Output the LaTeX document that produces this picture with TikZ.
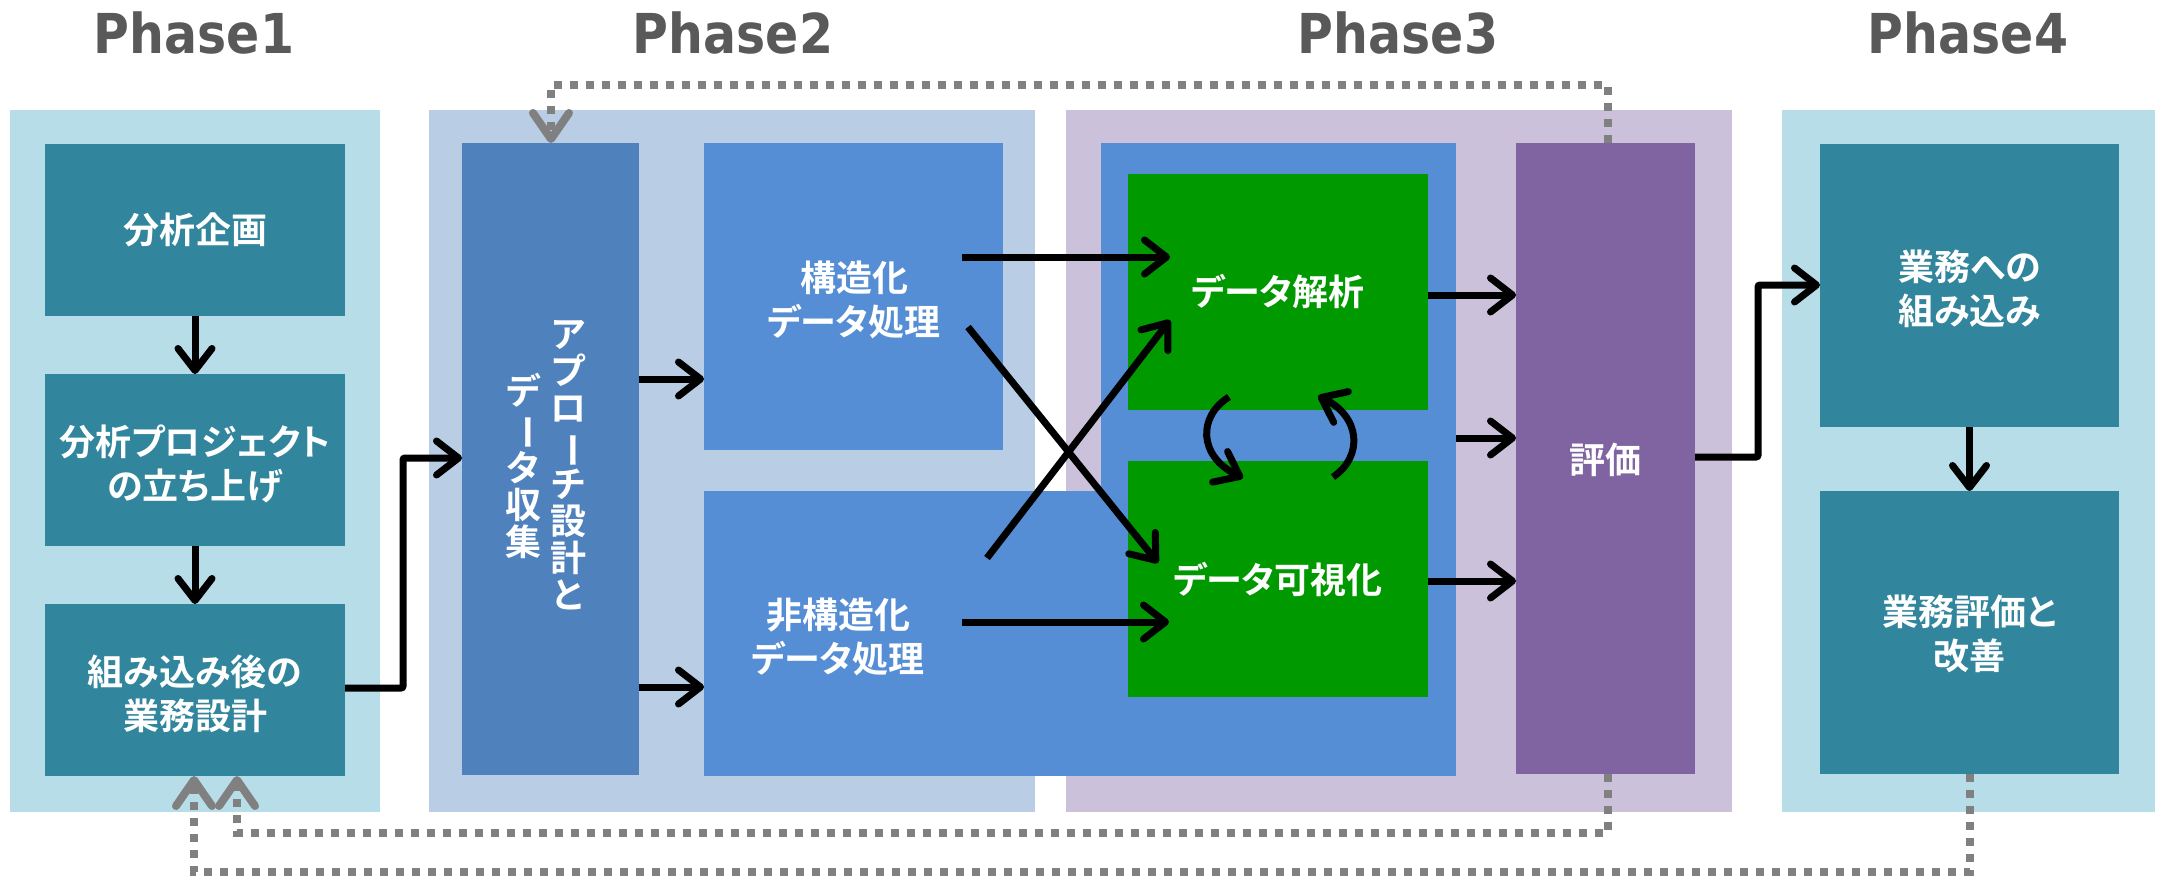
\documentclass[tikz,border=0pt]{standalone}
\usepackage{fontspec}
\usepackage{graphicx}
\usetikzlibrary{arrows.meta}
\newfontfamily\jpb{Noto Sans CJK JP}[UprightFont=* Bold, RawFeature=+palt]
\newfontfamily\jpv{Noto Sans CJK JP}[UprightFont=* Bold]
\newfontfamily\ttl{DejaVu Sans}[UprightFont=* Bold, FakeStretch=0.89]
\newcommand\vbar{\rotatebox[origin=c]{-90}{ー}}
\definecolor{bgA}{HTML}{B7DDE8}
\definecolor{bxA}{HTML}{31859C}
\definecolor{bgB}{HTML}{B9CDE5}
\definecolor{bxApp}{HTML}{4F81BD}
\definecolor{bxB}{HTML}{558ED5}
\definecolor{bgC}{HTML}{CCC1DA}
\definecolor{grn}{HTML}{009900}
\definecolor{evl}{HTML}{8064A2}
\definecolor{tgray}{HTML}{595959}
\definecolor{dgray}{HTML}{808080}
\begin{document}
\begin{tikzpicture}[x=1pt,y=-1pt,
  box/.style={inner sep=0pt, outer sep=0pt},
  txt/.style={text=white, font=\jpb\fontsize{36}{44}\selectfont, align=center, inner sep=0pt},
  vtxt/.style={text=white, font=\jpv\fontsize{36}{37}\selectfont, align=center, inner sep=0pt},
  ttlst/.style={anchor=base, text=tgray, font=\ttl\fontsize{55}{60}\selectfont, inner sep=0pt},
  arr/.style={line width=7pt, -{Straight Barb[round, length=22pt, width=34pt]}},
  dotln/.style={draw=dgray, line width=8pt, dash pattern=on 8pt off 8pt, -{Straight Barb[round, length=26pt, width=36pt]}}
]
\fill[white] (0,0) rectangle (2162,876);
\useasboundingbox (0,0) rectangle (2162,876);

% titles
\node[ttlst] (t1) at (194,53) {Phase1};
\node[ttlst] (t2) at (733,53) {Phase2};
\node[ttlst] (t3) at (1398,53) {Phase3};
\node[ttlst] (t4) at (1968,53) {Phase4};

% phase backgrounds
\node[box, fill=bgA, minimum width=370, minimum height=702] (p1) at (195,461) {};
\node[box, fill=bgB, minimum width=606, minimum height=702] (p2) at (732,461) {};
\node[box, fill=bgC, minimum width=666, minimum height=702] (p3) at (1399,461) {};
\node[box, fill=bgA, minimum width=373, minimum height=702] (p4) at (1968.5,461) {};

% phase 1 boxes
\node[box, fill=bxA, minimum width=300, minimum height=172, txt] (a1) at (195,230) {分析企画};
\node[box, fill=bxA, minimum width=300, minimum height=172, txt] (a2) at (195,460) {};
\node[txt] at (195,464) {分析プロジェクト\\の立ち上げ};
\node[box, fill=bxA, minimum width=300, minimum height=172] (a3) at (195,690) {};
\node[txt] at (195,694) {組み込み後の\\業務設計};

% phase 2
\node[box, fill=bxApp, minimum width=177, minimum height=632] (app) at (550.5,459) {};
\node[vtxt] at (568,465.5) {ア\\プ\\ロ\\\vbar\\チ\\設\\計\\と};
\node[vtxt] at (523,466) {デ\\\vbar\\タ\\収\\集};
\node[box, fill=bxB, minimum width=299, minimum height=307] (str) at (853.5,296.5) {};
\node[txt] at (854,300) {構造化\\データ処理};
\node[box, fill=bxB, minimum width=397, minimum height=285] (uns) at (902.5,633.5) {};
\node[txt] at (838,637) {非構造化\\データ処理};

% phase 3
\node[box, fill=bxB, minimum width=355, minimum height=633] (p3in) at (1278.5,459.5) {};
\node[box, fill=grn, minimum width=300, minimum height=236, txt] (g1) at (1278,292) {データ解析};
\node[box, fill=grn, minimum width=300, minimum height=236, txt] (g2) at (1278,579) {データ可視化};
\node[box, fill=evl, minimum width=179, minimum height=631] (ev) at (1605.5,458.5) {};
\node[txt] at (1605.5,460) {評価};

% phase 4
\node[box, fill=bxA, minimum width=299, minimum height=283] (b1) at (1969.5,285.5) {};
\node[txt] at (1969.5,289) {業務への\\組み込み};
\node[box, fill=bxA, minimum width=299, minimum height=283] (b2) at (1969.5,632.5) {};
\node[txt] at (1969.5,634) {業務評価と\\改善};

% black arrows
\draw[arr] (a1.south) -- (a2.north);
\draw[arr] (a2.south) -- (a3.north);
\draw[arr, rounded corners=2pt] (a3.east |- 0,688) -- (403,688) |- (app.west |- 0,458);
\draw[arr] (app.east |- 0,379) -- (str.west |- 0,379);
\draw[arr] (app.east |- 0,687) -- (uns.west |- 0,687);

\coordinate (s1) at (962,257);
\coordinate (s2) at (968,327);
\coordinate (u1) at (987,558);
\coordinate (u2) at (962,622);
\coordinate (g1in) at (1170,257);
\coordinate (g1d) at (1170,320);
\coordinate (g2d) at (1158,563);
\coordinate (g2in) at (1169,622);
\draw[arr] (s1) -- (g1in);
\draw[arr] (s2) -- (g2d);
\draw[arr] (u1) -- (g1d);
\draw[arr] (u2) -- (g2in);

\draw[arr] (g1.east |- 0,295) -- (ev.west |- 0,295);
\draw[arr] (p3in.east |- 0,438) -- (ev.west |- 0,438);
\draw[arr] (g2.east |- 0,581) -- (ev.west |- 0,581);
\draw[arr, rounded corners=2pt] (ev.east |- 0,457) -- (1758,457) |- (b1.west |- 0,285);
\draw[arr] (b1.south) -- (b2.north);

% cycle arrows
\coordinate (cL1) at (1229,397);
\coordinate (cL2) at (1243,478);
\coordinate (cR1) at (1333,477);
\coordinate (cR2) at (1318,396);
\draw[arr] (cL1) .. controls (1198,416) and (1198,456) .. (cL2);
\draw[arr] (cR1) .. controls (1364,456) and (1360,416) .. (cR2);

% dotted feedback lines
\draw[dotln] (ev.north -| 1608,0) -- (1608,85) -- (551,85) -- (app.north -| 551,0);
\draw[dotln] (ev.south -| 1608,0) -- (1608,833) -- (237,833) -- (a3.south -| 237,0);
\draw[dotln] (b2.south -| 1970,0) -- (1970,872) -- (194,872) -- (a3.south -| 194,0);
\end{tikzpicture}
\end{document}
